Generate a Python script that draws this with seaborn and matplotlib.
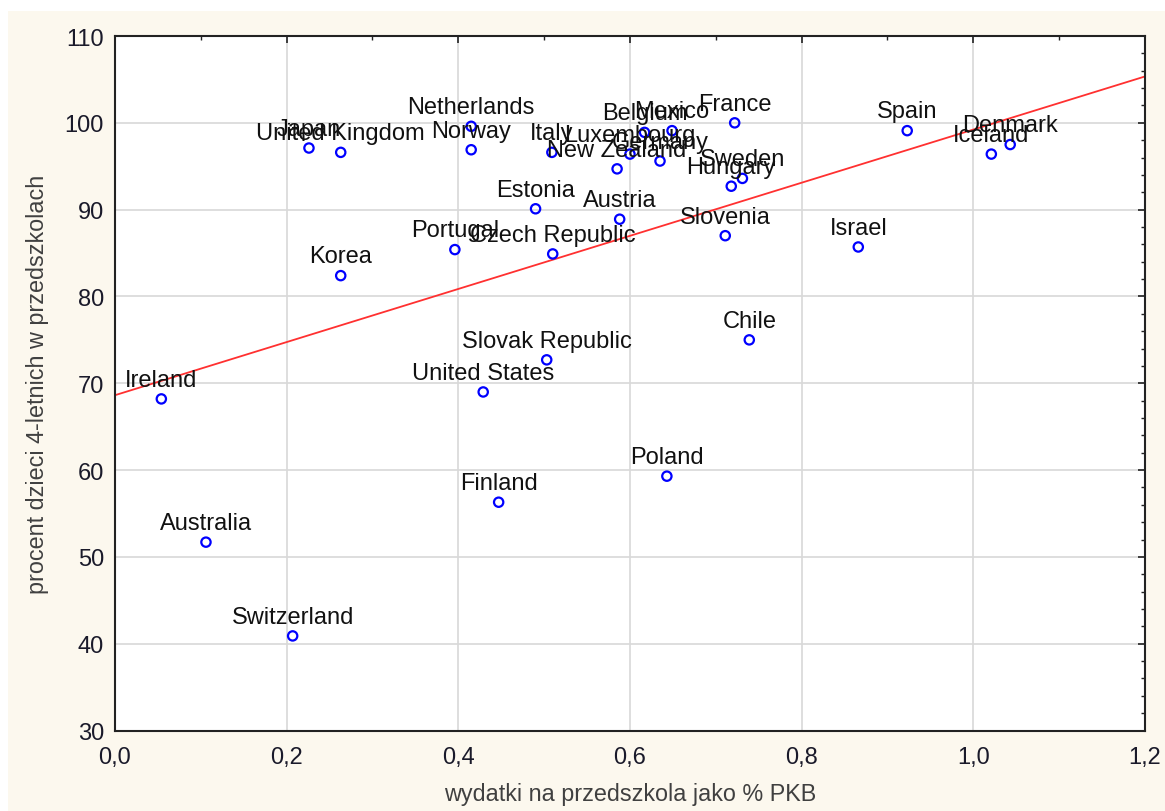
import numpy as np
import pandas as pd
import matplotlib
matplotlib.use("Agg")
import matplotlib.pyplot as plt
from matplotlib.ticker import MultipleLocator, FuncFormatter
from matplotlib.patches import Rectangle
import seaborn as sns

# dane
kraje = ["Ireland", "Australia", "Switzerland", "Korea", "Japan", "United Kingdom",
         "Netherlands", "Norway", "Portugal", "Czech Republic", "Estonia",
         "Slovak Republic", "United States", "Finland", "Poland", "Austria",
         "Slovenia", "Chile", "Israel", "Spain", "Iceland", "Denmark", "France",
         "Sweden", "Hungary", "Italy", "Luxembourg", "Belgium", "Mexico",
         "Germany", "New Zealand"]
wydatki = [0.054, 0.106, 0.207, 0.263, 0.226, 0.263,
           0.415, 0.415, 0.396, 0.510, 0.490,
           0.503, 0.429, 0.447, 0.643, 0.588,
           0.711, 0.739, 0.866, 0.923, 1.021, 1.043, 0.722,
           0.731, 0.718, 0.509, 0.600, 0.617, 0.649,
           0.635, 0.585]
procent = [68.2, 51.7, 40.9, 82.4, 97.1, 96.6,
           99.6, 96.9, 85.4, 84.9, 90.1,
           72.7, 69.0, 56.3, 59.3, 88.9,
           87.0, 75.0, 85.7, 99.1, 96.4, 97.5, 100.0,
           93.6, 92.7, 96.6, 96.4, 98.9, 99.1,
           95.6, 94.7]

df = pd.DataFrame({"kraj": kraje, "x": wydatki, "y": procent})

sns.set_style("white")
plt.rcParams["font.family"] = ["Liberation Sans", "DejaVu Sans"]

fig = plt.figure(figsize=(11.65, 8.12), dpi=100)
fig.patch.set_facecolor("white")
fig.patches.append(Rectangle((8 / 1165, 0), 1, 1 - 12 / 812, transform=fig.transFigure,
                             facecolor="#fcf8ee", edgecolor="none", zorder=-10))
ax = fig.add_axes([0.0987, 0.0991, 0.8841, 0.8553])
ax.set_facecolor("white")

ax.set_xlim(0, 1.2)
ax.set_ylim(30, 110)

sns.regplot(data=df, x="x", y="y", scatter=False, ci=None, truncate=False,
            color="#ff3030", line_kws={"linewidth": 1.3}, ax=ax)
sns.scatterplot(data=df, x="x", y="y", marker="o", s=45, facecolors="none",
                edgecolor="#0000ff", linewidth=1.6, ax=ax, zorder=3)

for _, r in df.iterrows():
    ax.annotate(r["kraj"], (r["x"], r["y"]), xytext=(0, 9.5), textcoords="offset points",
                ha="center", va="baseline", fontsize=17, color="#111111", zorder=4)

ax.set_xlim(0, 1.2)
ax.set_ylim(30, 110)
ax.xaxis.set_major_locator(MultipleLocator(0.2))
ax.xaxis.set_minor_locator(MultipleLocator(0.1))
ax.yaxis.set_major_locator(MultipleLocator(10))
ax.yaxis.set_minor_locator(MultipleLocator(2))
ax.xaxis.set_major_formatter(FuncFormatter(lambda v, p: f"{v:.1f}".replace(".", ",")))
ax.grid(True, which="major", color="#d8d8d8", linewidth=1.2)
ax.tick_params(which="both", direction="in", top=True, right=True, color="#222222",
               labelsize=17, labelcolor="#1a1a2a")
ax.tick_params(which="major", length=5, width=1.2, pad=8)
ax.tick_params(axis="x", which="major", pad=11)
ax.tick_params(which="minor", length=3, width=1)
for s in ax.spines.values():
    s.set_color("#222222")
    s.set_linewidth(1.5)

ax.set_xlabel("wydatki na przedszkola jako % PKB", fontsize=16.8, color="#404040", labelpad=10)
ax.set_ylabel("procent dzieci 4-letnich w przedszkolach", fontsize=16.8, color="#404040", labelpad=11)

fig.savefig("out.png", dpi=100, facecolor=fig.get_facecolor())
